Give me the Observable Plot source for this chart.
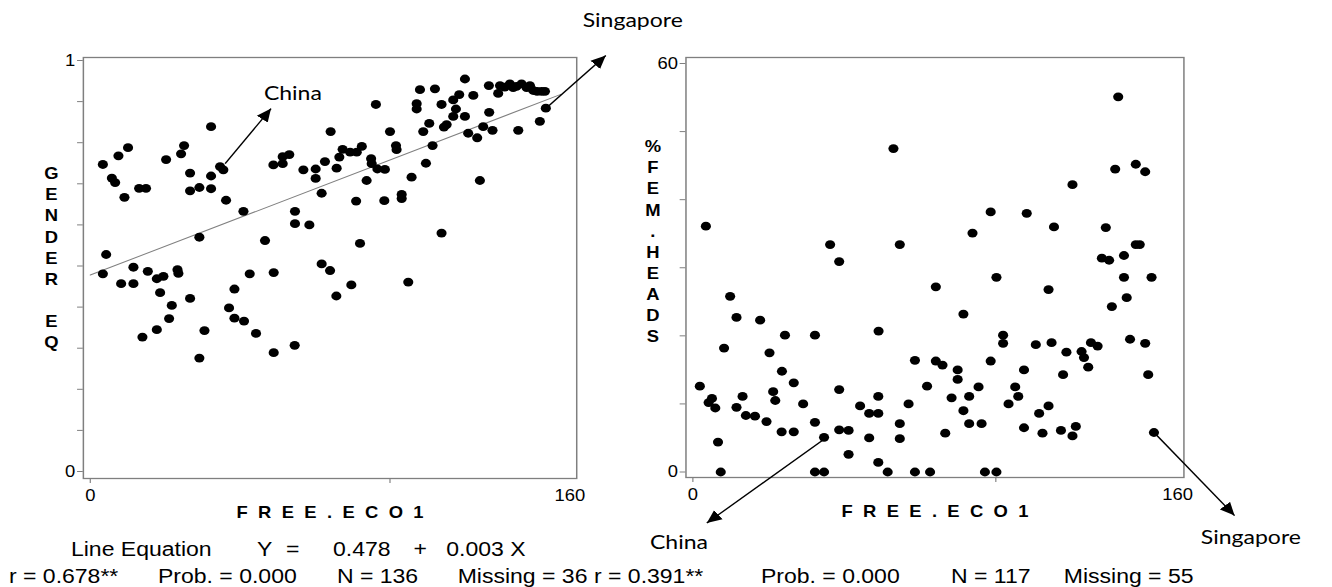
<!DOCTYPE html>
<html>
<head>
<meta charset="utf-8">
<script src="https://cdn.jsdelivr.net/npm/d3@7"></script>
<script src="https://cdn.jsdelivr.net/npm/@observablehq/plot@0.6"></script>
<style>
  html, body { margin: 0; padding: 0; background: #fff; overflow: hidden; }
  /* the whole figure is laid out narrow and stretched horizontally */
  #stage { position: relative; width: 1159px; height: 587px; transform: scaleX(1.15); transform-origin: 0 0;
           font-family: "Liberation Sans", Arial, sans-serif; color: #000; }
  #stage svg { overflow: visible; }
  .panel { position: absolute; top: 0; }
  .stat { position: absolute; font-size: 20px; line-height: 20px; white-space: pre; }
</style>
</head>
<body>
<div id="stage">
  <div id="left" class="panel" style="left:0"></div>
  <div id="right" class="panel" style="left:522px"></div>
</div>
<script>
// ---- data -------------------------------------------------------------
// [FREE.ECO1, GENDER EQ]
const genderEqPoints = [
  [4.2,0.747],[7.2,0.714],[8.3,0.703],[9.4,0.768],[12.6,0.788],[11.4,0.667],[16.3,0.689],[18.6,0.689],
  [25.3,0.759],[30.3,0.773],[31.3,0.793],[33.3,0.726],[33.3,0.683],[36.4,0.691],[40.3,0.839],[40.3,0.719],
  [40.3,0.688],[43.3,0.742],[44.4,0.734],[45.3,0.660],[51.1,0.633],[36.4,0.570],[5.3,0.528],[58.3,0.562],
  [61.1,0.746],[64.2,0.749],[64.2,0.766],[66.4,0.771],[68.3,0.633],[68.3,0.603],[73.1,0.600],[71.1,0.734],
  [75.2,0.736],[75.2,0.713],[77.2,0.677],[78.3,0.754],[80.2,0.827],[82.2,0.738],[83.1,0.765],[84.2,0.784],
  [86.7,0.777],[88.9,0.777],[88.7,0.658],[90.0,0.555],[77.2,0.505],[80.0,0.489],[90.6,0.791],[95.3,0.893],
  [92.2,0.708],[93.7,0.761],[93.9,0.749],[95.8,0.736],[98.3,0.735],[98.1,0.659],[100,0.827],[102,0.793],
  [102.2,0.783],[103.9,0.674],[103.9,0.664],[107.2,0.716],[108.9,0.895],[108.9,0.882],[110,0.929],[111.1,0.827],
  [112,0.750],[113.1,0.847],[114.2,0.793],[115,0.931],[117.2,0.893],[117.2,0.580],[118,0.838],[118.9,0.844],
  [121.1,0.904],[122,0.882],[123.1,0.917],[121.1,0.864],[125,0.955],[125,0.864],[126.1,0.823],[127.8,0.915],
  [129.1,0.812],[130,0.708],[131.1,0.839],[133.1,0.874],[134.2,0.830],[133,0.939],[136.1,0.920],[136.7,0.939],
  [138.3,0.935],[140,0.943],[141.1,0.934],[142.2,0.937],[143.9,0.943],[145.6,0.934],[146.7,0.939],[147.8,0.927],
  [149.1,0.925],[150.6,0.925],[151.7,0.925],[142.8,0.830],[150,0.852],[152,0.884],
  [4.2,0.481],[10.3,0.457],[14.4,0.497],[14.4,0.457],[19.2,0.487],[22.2,0.469],[24.4,0.475],[23.3,0.435],
  [27.2,0.404],[26.3,0.372],[29.1,0.491],[29.4,0.482],[33.3,0.421],[17.4,0.327],[22.2,0.345],[38.1,0.343],
  [36.4,0.276],[46.3,0.398],[48.1,0.444],[48.1,0.373],[51.3,0.366],[53.2,0.481],[55.3,0.336],[61.2,0.484],
  [61.2,0.289],[68.2,0.307],[82.1,0.427],[87.1,0.454],[106.1,0.461]
];

// [FREE.ECO1, %FEM.HEADS]
const femHeadsPoints = [
  [4.3,36.1],[45.3,33.4],[48.3,30.9],[66.2,47.5],[68.3,33.4],[140.4,55.1],[139.4,44.5],[146.2,45.2],
  [149.3,44.1],[125.3,42.2],[98.3,38.2],[110.2,38.0],[92.3,35.1],[119.2,36.0],[136.3,35.9],[146.2,33.4],
  [147.5,33.4],[142.3,31.8],[135.0,31.4],[137.4,31.1],
  [80.2,27.2],[12.3,25.8],[14.4,22.7],[22.2,22.3],[10.3,18.2],[30.4,20.1],[40.3,20.1],[61.3,20.7],
  [25.3,17.5],[29.4,14.8],[33.3,13.1],[2.3,12.6],[26.5,11.8],[27.2,10.5],[48.3,12.1],[6.3,10.8],
  [5.2,10.2],[7.4,9.4],[16.4,11.1],[14.4,9.5],[17.5,8.3],[20.5,8.2],[36.4,10.0],[24.3,7.4],
  [40.3,7.3],[29.3,5.9],[33.3,5.9],[43.3,5.1],[48.3,6.2],[51.4,6.1],[51.4,2.6],[55.2,9.7],
  [58.2,8.6],[61.2,8.6],[61.2,11.1],[58.2,5.0],[61.2,1.4],[64.3,0],[68.3,7.1],[68.3,4.9],
  [71.2,10.0],[73.3,16.4],[77.3,12.6],[8.3,4.4],[9.2,0],[40.3,0],[43.3,0],[73.3,0],[78.3,0],
  [100.2,28.6],[117.4,26.8],[142.3,28.6],[151.4,28.6],[143.2,25.6],[138.3,24.3],[89.3,23.2],[102.4,20.1],
  [102.4,18.9],[113.2,18.7],[118.4,19.0],[123.3,17.6],[128.3,17.7],[129.1,16.8],[130.5,15.4],[131.4,19.0],
  [133.6,18.5],[144.3,19.5],[149.3,18.9],[150.3,14.3],[80.2,16.3],[82.4,15.7],[87.4,15.0],[87.4,13.6],
  [98.3,16.3],[109.3,15.0],[122.2,14.3],[94.3,12.5],[106.4,12.5],[85.4,10.9],[91.2,11.1],[107.4,11.1],
  [89.3,9.0],[104.2,10.0],[117.4,9.7],[114.3,8.6],[91.2,7.1],[95.3,7.1],[83.3,5.7],[109.3,6.5],
  [115.4,5.7],[121.5,6.1],[126.4,6.7],[125.3,5.3],[152.2,5.8],[96.4,0],[100.2,0]
];

// least-squares fit of GENDER EQ on FREE.ECO1
const genderFit = {intercept: 0.478, slope: 0.0028, r: 0.678, prob: 0.000, n: 136, missing: 36};
const femHeadsFit = {r: 0.391, prob: 0.000, n: 117, missing: 55};
const fitExtent = [0, 157];

// axes
const xTicks = [0, 100];
const xTickLabels = [0, 160];
const genderTicks = d3.range(11).map(i => i / 10);
const genderTickLabels = [0, 1];
const femTicks = d3.range(7).map(i => i * 10);
const femTickLabels = [0, 60];
const xTitle = "FREE.ECO1";
const genderTitle = "GENDER EQ";
const femTitle = "%FEM.HEADS";

// callouts (in data units)
const genderArrows = [
  {x1: 45, y1: 0.749, x2: 60.3, y2: 0.883},
  {x1: 153, y1: 0.890, x2: 172, y2: 1.012}
];
const genderCallouts = [
  {text: "China", x: 67.6, y: 0.919},
  {text: "Singapore", x: 181, y: 1.097}
];
const femArrows = [
  {x1: 42.6, y1: 4.6, x2: 4.6, y2: -7.5},
  {x1: 153.1, y1: 5.4, x2: 178.8, y2: -6.4}
];
const femCallouts = [
  {text: "China", x: -4.6, y: -10.3},
  {text: "Singapore", x: 184.2, y: -9.6}
];

// ---- drawing ----------------------------------------------------------
const GRAY = "#7f7f7f";
const FONT = "Liberation Sans, Arial, sans-serif";

function stackedTitle(s) { return s.split("").join("\n"); }

function solidArrowheads(svg) {
  svg.querySelectorAll("marker").forEach(m => {
    m.setAttribute("viewBox", "-10 -5 10 10");
    m.setAttribute("markerWidth", 10);
    m.setAttribute("markerHeight", 10);
    m.setAttribute("fill", "black");
    m.setAttribute("stroke", "none");
    while (m.firstChild) m.removeChild(m.firstChild);
    const p = document.createElementNS("http://www.w3.org/2000/svg", "path");
    p.setAttribute("d", "M0,0L-10,-4.5L-10,4.5Z");
    m.appendChild(p);
  });
}

function spacedTitle(svg) {
  svg.querySelectorAll("text").forEach(t => {
    if (t.textContent === xTitle) t.style.letterSpacing = "9px";
  });
}

function scatter(o) {
  const plot = Plot.plot({
    width: o.width, height: 530,
    marginLeft: o.marginLeft, marginRight: o.marginRight, marginTop: 57, marginBottom: o.marginBottom,
    style: {background: "transparent", overflow: "visible", fontFamily: FONT, fontSize: "16px", color: "black"},
    x: {domain: [0, 160], insetLeft: o.insetLeft, insetRight: o.insetRight},
    y: {domain: o.yDomain, insetTop: o.insetTop, insetBottom: o.insetBottom},
    marks: [
      Plot.frame({stroke: GRAY, strokeWidth: 1.3}),
      Plot.axisX({ticks: xTicks, tickSize: 5, tickFormat: () => "", stroke: GRAY, label: null}),
      Plot.axisX({ticks: xTickLabels, tickSize: 0, tickPadding: 11, tickFormat: d => `${d}`, label: null, fontSize: 16}),
      Plot.axisY({ticks: o.yTicks, tickSize: 5, tickFormat: () => "", stroke: GRAY, label: null}),
      Plot.axisY({ticks: o.yLabels, tickSize: 0, tickPadding: 7, tickFormat: d => `${d}`, label: null, fontSize: 16}),
      ...(o.fit ? [Plot.line(fitExtent.map(x => ({x, y: o.fit.intercept + o.fit.slope * x})),
                             {x: "x", y: "y", stroke: "#808080", strokeWidth: 1})] : []),
      Plot.dot(o.points, {x: d => d[0], y: d => d[1], r: 4.4, fill: "black", stroke: "none"}),
      Plot.link(o.arrows, {x1: "x1", y1: "y1", x2: "x2", y2: "y2", stroke: "black", strokeWidth: 1.3, markerEnd: "arrow"}),
      Plot.text(o.callouts, {x: "x", y: "y", text: "text", fontFamily: "Lato", fontSize: 20, fill: "black"}),
      Plot.text([o.title], {x: o.titleAt[0], y: o.titleAt[1], text: d => stackedTitle(d),
                            fontWeight: "bold", fontSize: 16, lineHeight: 1.32, fill: "black"}),
      Plot.text([xTitle], {frameAnchor: "bottom", dy: 39, dx: 4.5, text: d => d,
                           fontWeight: "bold", fontSize: 16, fill: "black"})
    ]
  });
  solidArrowheads(plot);
  spacedTitle(plot);
  return plot;
}

document.getElementById("left").appendChild(scatter({
  width: 522, marginLeft: 72, marginRight: 21, marginBottom: 52,
  insetLeft: 6, insetRight: 6, insetTop: 3, insetBottom: 7,
  yDomain: [0, 1], yTicks: genderTicks, yLabels: genderTickLabels,
  points: genderEqPoints, fit: genderFit,
  arrows: genderArrows, callouts: genderCallouts,
  title: genderTitle, titleAt: [-13, 0.522]
}));

document.getElementById("right").appendChild(scatter({
  width: 637, marginLeft: 74, marginRight: 130, marginBottom: 53,
  insetLeft: 6, insetRight: 5.5, insetTop: 6, insetBottom: 5.5,
  yDomain: [0, 60], yTicks: femTicks, yLabels: femTickLabels,
  points: femHeadsPoints, fit: null,
  arrows: femArrows, callouts: femCallouts,
  title: femTitle, titleAt: [-13.2, 34.0]
}));

// ---- statistics lines under the panels ----------------------------------
const f3 = d3.format(".3f");
const statRows = [
  {top: 539, items: [
    ["Line Equation", 61.7], ["Y", 223.5], ["=", 248.7], [f3(genderFit.intercept), 289.6],
    ["+", 359.5], [f3(genderFit.slope) + " X", 388]
  ]},
  {top: 566, items: [
    [`r = ${f3(genderFit.r)}**`, 7.8], [`Prob. = ${f3(genderFit.prob)}`, 137.4],
    [`N = ${genderFit.n}`, 293], [`Missing = ${genderFit.missing}`, 398],
    [`r = ${f3(femHeadsFit.r)}**`, 516.5], [`Prob. = ${f3(femHeadsFit.prob)}`, 661.7],
    [`N = ${femHeadsFit.n}`, 827], [`Missing = ${femHeadsFit.missing}`, 925]
  ]}
];
const stage = document.getElementById("stage");
for (const row of statRows) {
  for (const [text, left] of row.items) {
    const s = document.createElement("div");
    s.className = "stat";
    s.style.left = left + "px";
    s.style.top = row.top + "px";
    s.textContent = text;
    stage.appendChild(s);
  }
}
</script>
</body>
</html>
